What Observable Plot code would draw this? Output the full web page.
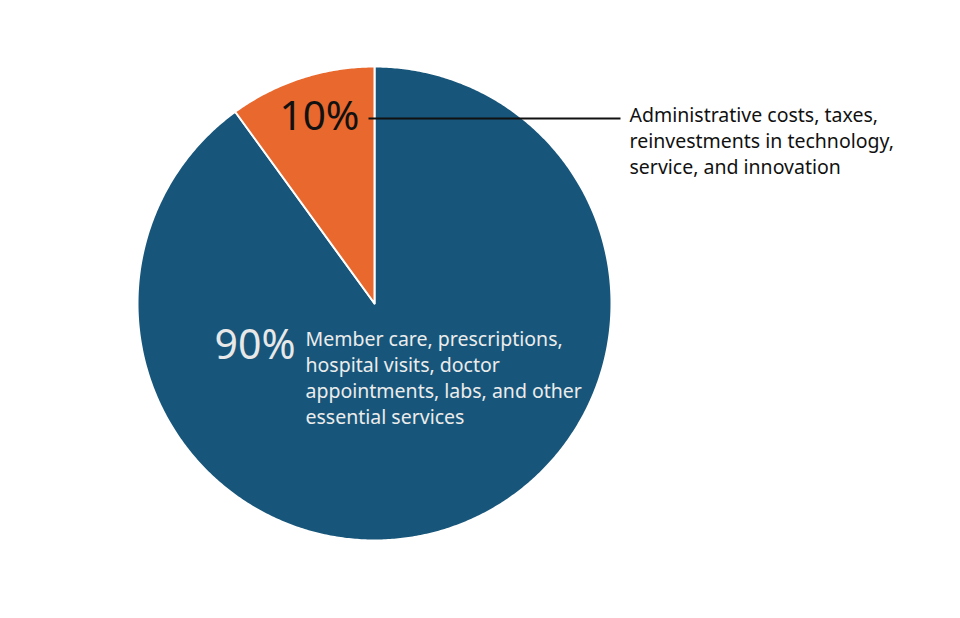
<!DOCTYPE html>
<html>
<head>
<meta charset="utf-8">
<script src="https://cdn.jsdelivr.net/npm/d3@7"></script>
<script src="https://cdn.jsdelivr.net/npm/@observablehq/plot@0.6"></script>
<style>
  html, body { margin: 0; padding: 0; background: #fff; }
  #chart { width: 960px; height: 618px; }
</style>
</head>
<body>
<div id="chart"></div>
<script>
// ---- data ----
const categories = ["Member care", "Administrative"];
const shares = [90, 10];
const pctLabels = ["90%", "10%"];
const descriptions = [
  "Member care, prescriptions,\nhospital visits, doctor\nappointments, labs, and other\nessential services",
  "Administrative costs, taxes,\nreinvestments in technology,\nservice, and innovation"
];
const colors = ["#17567A", "#E8682E"];

// ---- build slice outlines (unit circle, angle clockwise from 12 o'clock) ----
const arcs = d3.pie().sort(null).value(d => d)(shares);
const slicePoints = [];
arcs.forEach((a, i) => {
  const cat = categories[i];
  slicePoints.push({cat, x: 0, y: 0});
  const n = Math.max(2, Math.ceil((a.endAngle - a.startAngle) / (Math.PI / 360)));
  for (let k = 0; k <= n; k++) {
    const t = a.startAngle + (a.endAngle - a.startAngle) * k / n;
    slicePoints.push({cat, x: Math.sin(t), y: Math.cos(t)});
  }
  slicePoints.push({cat, x: 0, y: 0});
});

// pixel → unit helpers for the annotation placement (center 374,303; r 237)
const R = 237, CX = 374, CY = 303;
const ux = px => (px - CX) / R;
const uy = py => (CY - py) / R;

const font = "'Noto Sans', sans-serif";
const fs = 19.5;

const chart = Plot.plot({
  width: 960,
  height: 618,
  marginLeft: CX - R,
  marginRight: 960 - (CX + R),
  marginTop: CY - R,
  marginBottom: 618 - (CY + R),
  x: {domain: [-1, 1], axis: null},
  y: {domain: [-1, 1], axis: null},
  style: {fontFamily: font, background: "white"},
  marks: [
    ...categories.map((c, i) => Plot.line(slicePoints.filter(d => d.cat === c), {
      x: "x", y: "y", fill: colors[i], stroke: "white", strokeWidth: 2, strokeLinejoin: "round"
    })),
    // leader line for 10%
    Plot.link([0], {x1: ux(368), y1: uy(118), x2: ux(620), y2: uy(118), stroke: "#111", strokeWidth: 2}),
    Plot.text([pctLabels[1]], {x: ux(359), y: uy(117), text: d => d, textAnchor: "end", fontSize: 40.5, fill: "#111", fontFamily: font}),
    Plot.text([descriptions[1]], {x: ux(629), y: uy(103.5), text: d => d, textAnchor: "start", lineAnchor: "top", lineHeight: 26/fs, fontSize: fs, fill: "#111", fontFamily: font}),
    Plot.text([pctLabels[0]], {x: ux(214), y: uy(345.5), text: d => d, textAnchor: "start", fontSize: 41, fill: "#E8E8E8", fontFamily: font}),
    Plot.text([descriptions[0]], {x: ux(305), y: uy(327.5), text: d => d, textAnchor: "start", lineAnchor: "top", lineHeight: 26/fs, fontSize: fs, fill: "#ECECEC", fontFamily: font})
  ]
});
document.getElementById("chart").appendChild(chart);
</script>
</body>
</html>
